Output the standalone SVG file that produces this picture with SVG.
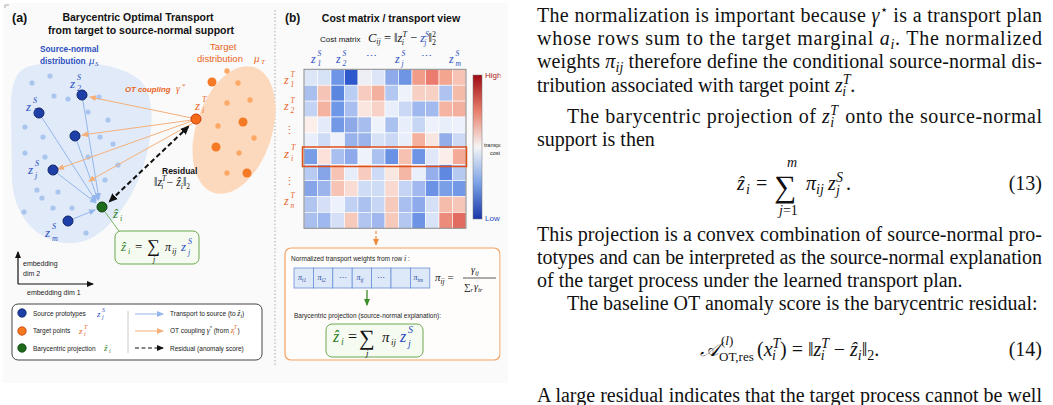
<svg xmlns="http://www.w3.org/2000/svg" width="1053" height="405" viewBox="0 0 1053 405">
<defs>
<style>
.s{font-family:"Liberation Sans",Arial,sans-serif}
.m{font-family:"Liberation Serif","Times New Roman","DejaVu Serif",serif;font-style:italic}
.r{font-family:"Liberation Serif","Times New Roman","DejaVu Serif",serif}
.bl{fill:#2a4fc0}.or{fill:#e8641c}.gr{fill:#2e7d1f}.bt{font-weight:bold}
.arb{stroke:#94b6ec;stroke-width:1;fill:none;marker-end:url(#mb)}
.aro{stroke:#f5b07a;stroke-width:1;fill:none;marker-end:url(#mo)}
.sd{fill:#aac5ee}.td{fill:#fca867}.tl{fill:#f47a25}
.p{fill:#1f3fa8;stroke:#0e2366;stroke-width:1}
.c rect{stroke:#fff;stroke-width:0.6}
.body{font-family:"Liberation Serif","Times New Roman",serif;font-size:20px;fill:#111}
.wc{fill:#dde8f9;stroke:#6b8fd8;stroke-width:0.8}
</style>
<marker id="mb" markerWidth="8" markerHeight="8" refX="6" refY="4" orient="auto" markerUnits="userSpaceOnUse"><path d="M0,1 L7,4 L0,7 Z" fill="#94b6ec"/></marker>
<marker id="mo" markerWidth="8" markerHeight="8" refX="6" refY="4" orient="auto" markerUnits="userSpaceOnUse"><path d="M0,1 L7,4 L0,7 Z" fill="#f5b07a"/></marker>
<marker id="mk" markerWidth="10" markerHeight="10" refX="7" refY="5" orient="auto-start-reverse" markerUnits="userSpaceOnUse"><path d="M0,1 L9,5 L0,9 Z" fill="#111"/></marker>
<marker id="mk2" markerWidth="8" markerHeight="8" refX="6" refY="4" orient="auto" markerUnits="userSpaceOnUse"><path d="M0,1 L7,4 L0,7 Z" fill="#111"/></marker>
<marker id="mg" markerWidth="8" markerHeight="8" refX="6" refY="4" orient="auto" markerUnits="userSpaceOnUse"><path d="M0,1 L7,4 L0,7 Z" fill="#3c8c2c"/></marker>
<marker id="mo2" markerWidth="8" markerHeight="8" refX="6" refY="4" orient="auto" markerUnits="userSpaceOnUse"><path d="M0,1 L7,4 L0,7 Z" fill="#f08a3c"/></marker>
<marker id="ma" markerWidth="8" markerHeight="8" refX="6" refY="4" orient="auto" markerUnits="userSpaceOnUse"><path d="M0,1 L7,4 L0,7 Z" fill="#111"/></marker>
<linearGradient id="cb" x1="0" y1="0" x2="0" y2="1">
<stop offset="0" stop-color="#9e0a14"/><stop offset="0.25" stop-color="#e7806b"/><stop offset="0.5" stop-color="#f5f5f5"/><stop offset="0.75" stop-color="#7ba3e6"/><stop offset="1" stop-color="#1a36a8"/>
</linearGradient>
<clipPath id="fc"><rect x="0" y="0" width="500.5" height="405"/></clipPath>
</defs>

<rect x="0" y="0" width="1053" height="405" fill="#fff"/>
<rect x="3" y="3" width="505" height="380" fill="#fafafa"/>
<path d="M5,8 L5,5 L9,5" stroke="#999" stroke-width="0.8" fill="none"/>
<line x1="275" y1="10" x2="275" y2="366" stroke="#aaa" stroke-width="1" stroke-dasharray="1.5,2"/>

<!-- Panel (a) -->
<g id="panel-a">
<text class="s bt" x="12" y="22" font-size="12.5" fill="#111">(a)</text>
<text class="s bt" x="138" y="21" font-size="10.5" text-anchor="middle" fill="#111">Barycentric Optimal Transport</text>
<text class="s bt" x="141" y="34" font-size="10.5" text-anchor="middle" fill="#111">from target to source-normal support</text>

<g id="source-dist">
<path d="M30,66 C70,58 132,62 146,88 C158,114 150,165 128,200 C110,228 90,246 65,243 C35,240 14,215 12,180 L11,110 C11,85 15,70 30,66 Z" fill="#e0eaf9"/>
<text class="s bl bt" x="40" y="52" font-size="8.3">Source-normal</text>
<text class="s bl bt" x="40" y="64" font-size="8.3">distribution</text>
<text class="m bl" x="89" y="64" font-size="11">μ</text><text class="m bl" x="95" y="66" font-size="7">S</text>
<circle class="sd" cx="32" cy="83" r="2.6"/><circle class="sd" cx="50" cy="76" r="2.6"/><circle class="sd" cx="54" cy="96" r="2.6"/>
<circle class="sd" cx="68" cy="99" r="2.6"/><circle class="sd" cx="99" cy="97" r="2.6"/><circle class="sd" cx="88" cy="112" r="2.6"/>
<circle class="sd" cx="108" cy="120" r="2.6"/><circle class="sd" cx="25" cy="127" r="2.6"/><circle class="sd" cx="43" cy="137" r="2.6"/>
<circle class="sd" cx="100" cy="137" r="2.6"/><circle class="sd" cx="113" cy="144" r="2.6"/><circle class="sd" cx="25" cy="153" r="2.6"/>
<circle class="sd" cx="45" cy="157" r="2.6"/><circle class="sd" cx="88" cy="157" r="2.6"/><circle class="sd" cx="118" cy="165" r="2.6"/>
<circle class="sd" cx="37" cy="190" r="2.6"/><circle class="sd" cx="58" cy="192" r="2.6"/><circle class="sd" cx="42" cy="198" r="2.6"/>
<circle class="sd" cx="53" cy="208" r="2.6"/><circle class="sd" cx="72" cy="208" r="2.6"/><circle class="sd" cx="86" cy="233" r="2.6"/>
<circle class="sd" cx="105" cy="180" r="2.6"/><circle class="sd" cx="24" cy="212" r="2.6"/>
</g>

<g id="target-dist">
<ellipse cx="234" cy="130" rx="38" ry="66" transform="rotate(18 234 130)" fill="#fcd9bd"/>
<text class="s or" x="210" y="50" font-size="9.5">Target</text>
<text class="s or" x="197" y="62" font-size="9.5">distribution</text>
<text class="m or" x="254" y="62" font-size="11">μ</text><text class="m or" x="261" y="64" font-size="7">T</text>
<circle class="td" cx="227" cy="71" r="2.7"/><circle class="td" cx="238" cy="83" r="2.7"/><circle class="td" cx="227" cy="103" r="2.7"/>
<circle class="td" cx="250" cy="100" r="2.7"/><circle class="td" cx="218" cy="126" r="2.7"/><circle class="td" cx="254" cy="138" r="2.7"/>
<circle class="td" cx="239" cy="153" r="2.7"/><circle class="td" cx="227" cy="173" r="2.7"/>
<circle class="tl" cx="212" cy="82" r="4.5"/><circle class="tl" cx="243" cy="122" r="4.5"/><circle class="tl" cx="216" cy="147" r="4.5"/><circle class="tl" cx="247" cy="173" r="4.5"/>
</g>

<g id="connectors-a">
<line class="arb" x1="39" y1="113" x2="96" y2="201"/>
<line class="arb" x1="82" y1="95" x2="99" y2="199"/>
<line class="arb" x1="75" y1="136" x2="98" y2="200"/>
<line class="arb" x1="53" y1="170" x2="96" y2="203"/>
<line class="arb" x1="68" y1="221" x2="95" y2="210"/>
<line class="aro" x1="192" y1="118" x2="90" y2="97"/>
<line class="aro" x1="192" y1="120" x2="82" y2="135"/>
<line class="aro" x1="192" y1="121" x2="58" y2="169"/>
<line class="aro" x1="193" y1="123" x2="89" y2="181"/>
<line x1="110" y1="201" x2="188" y2="127" stroke="#111" stroke-width="2" stroke-dasharray="5,3" marker-start="url(#mk)" marker-end="url(#mk)"/>
<line x1="105" y1="212" x2="119" y2="231" stroke="#6aa84f" stroke-width="0.9"/>
</g>

<g id="prototypes">
<circle class="p" cx="82" cy="95" r="5"/><circle class="p" cx="39" cy="113" r="5"/><circle class="p" cx="75" cy="136" r="5"/>
<circle class="p" cx="53" cy="170" r="5"/><circle class="p" cx="68" cy="221" r="5"/>
<text class="m bl" x="70" y="88" font-size="13">z</text><text class="m bl" x="77" y="80" font-size="8">S</text><text class="m bl" x="77" y="91" font-size="8">2</text>
<text class="m bl" x="26" y="111" font-size="13">z</text><text class="m bl" x="33" y="103" font-size="8">S</text><text class="m bl" x="33" y="114" font-size="8">1</text>
<text class="m bl" x="28" y="174" font-size="13">z</text><text class="m bl" x="35" y="166" font-size="8">S</text><text class="m bl" x="35" y="178" font-size="8">j</text>
<text class="m bl" x="45" y="237" font-size="13">z</text><text class="m bl" x="52" y="229" font-size="8">S</text><text class="m bl" x="52" y="241" font-size="8">m</text>
</g>

<g id="target-point">
<circle cx="196" cy="119" r="5" fill="#f56b1a" stroke="#c63b0a" stroke-width="1"/>
<text class="m or" x="195" y="110" font-size="13">z</text><text class="m or" x="202" y="102" font-size="8">T</text><text class="m or" x="202" y="113" font-size="8">i</text>
</g>

<g id="bary-point">
<circle cx="102" cy="207" r="5" fill="#1e6b1e" stroke="#0d3f0d" stroke-width="1"/>
<text class="m gr" x="113" y="218" font-size="13">ẑ</text><text class="m gr" x="120" y="221" font-size="8">i</text>
</g>

<text class="s or" x="125" y="92" font-size="7.8" font-style="italic" font-weight="bold">OT coupling</text>
<text class="m or" x="176" y="92" font-size="10">γ</text><text class="r or" x="182" y="88" font-size="7">*</text>

<g id="residual-label">
<text class="s bt" x="162" y="174" font-size="8.5" fill="#111">Residual</text>
<text class="r" x="154" y="186" font-size="12" fill="#111">‖<tspan font-style="italic">z</tspan><tspan font-style="italic" font-size="7.5" dy="-5">T</tspan><tspan font-style="italic" font-size="7.5" dx="-4.5" dy="8">i</tspan><tspan dy="-3" dx="3">−</tspan><tspan font-style="italic" dx="3">ẑ</tspan><tspan font-style="italic" font-size="7.5" dy="3">i</tspan><tspan dy="-3">‖</tspan><tspan font-size="7.5" dy="3">2</tspan></text>
</g>

<g id="formula-a">
<rect x="115" y="231" width="84" height="33" rx="6" fill="#f6fbf2" stroke="#6aa84f" stroke-width="1"/>
<text class="m gr" x="121" y="251" font-size="13">ẑ</text><text class="m gr" x="128" y="254" font-size="8">i</text>
<text class="r" x="135" y="251" font-size="13" fill="#111">=</text>
<text class="r" x="147" y="252" font-size="18" fill="#111">∑</text>
<text class="m" x="153" y="262" font-size="8" fill="#111">j</text>
<text class="m" x="165" y="251" font-size="12" fill="#111">π</text><text class="m" x="172" y="254" font-size="8" fill="#111">ij</text>
<text class="m bl" x="181" y="251" font-size="13">z</text><text class="m bl" x="188" y="244" font-size="8">S</text><text class="m bl" x="188" y="255" font-size="8">j</text>
</g>

<g id="axes">
<line x1="18" y1="284" x2="18" y2="252" stroke="#111" stroke-width="1.2" marker-end="url(#ma)"/>
<line x1="18" y1="284" x2="93" y2="284" stroke="#111" stroke-width="1.2" marker-end="url(#ma)"/>
<text class="s" x="23" y="266" font-size="7" fill="#222">embedding</text>
<text class="s" x="23" y="276" font-size="7" fill="#222">dim 2</text>
<text class="s" x="27" y="295" font-size="7" fill="#222">embedding dim 1</text>
</g>

<g id="legend">
<rect x="12" y="304" width="250" height="56" rx="6" fill="#fff" stroke="#444" stroke-width="1"/>
<circle cx="22" cy="313" r="4.2" fill="#1f3fa8" stroke="#0e2366" stroke-width="0.8"/>
<circle cx="22" cy="331" r="4.2" fill="#f5791f" stroke="#c63b0a" stroke-width="0.8"/>
<circle cx="22" cy="348" r="4.2" fill="#1e6b1e" stroke="#0d3f0d" stroke-width="0.8"/>
<text class="s" x="33" y="316" font-size="6.5" fill="#222">Source prototypes</text>
<text class="m bl" x="97" y="317" font-size="9">z</text><text class="m bl" x="102" y="312" font-size="6">S</text><text class="m bl" x="102" y="319" font-size="6">j</text>
<text class="s" x="33" y="333" font-size="6.5" fill="#222">Target points</text>
<text class="m or" x="79" y="334" font-size="9">z</text><text class="m or" x="84" y="329" font-size="6">T</text><text class="m or" x="84" y="336" font-size="6">i</text>
<text class="s" x="33" y="351" font-size="6.5" fill="#222">Barycentric projection</text>
<text class="m gr" x="104" y="351" font-size="9">ẑ</text><text class="m gr" x="109" y="353" font-size="6">i</text>
<line x1="128" y1="311" x2="128" y2="353" stroke="#bbb" stroke-width="0.8"/>
<line x1="135" y1="314" x2="163" y2="314" class="arb"/>
<line x1="135" y1="331" x2="163" y2="331" class="aro"/>
<line x1="135" y1="348" x2="163" y2="348" stroke="#111" stroke-width="1.2" stroke-dasharray="4,2.5" marker-end="url(#mk2)"/>
<text class="s" x="170" y="316" font-size="6.5" fill="#222">Transport to source  (to <tspan class="m" font-size="8">ẑ</tspan><tspan class="m" font-size="5.5" dy="2">i</tspan><tspan dy="-2">)</tspan></text>
<text class="s" x="170" y="333" font-size="6.5" fill="#222">OT coupling  <tspan class="m" font-size="8">γ</tspan><tspan font-size="5" dy="-3">*</tspan><tspan dy="3"> (from </tspan><tspan class="m or" font-size="8">z</tspan><tspan class="m or" font-size="5.5" dy="-4">T</tspan><tspan class="m or" font-size="5.5" dx="-3.5" dy="6">i</tspan><tspan dy="-2" dx="3">)</tspan></text>
<text class="s" x="170" y="351" font-size="6.5" fill="#222">Residual (anomaly score)</text>
</g>
</g>

<!-- Panel (b) -->
<g id="panel-b" clip-path="url(#fc)">
<text class="s bt" x="285" y="22" font-size="12" fill="#111">(b)</text>
<text class="s bt" x="391" y="22" font-size="10.5" text-anchor="middle" fill="#111">Cost matrix / transport view</text>
<text class="s" x="320" y="42" font-size="8" fill="#111">Cost matrix</text>
<text class="r" x="368" y="42" font-size="12.5" fill="#111"><tspan font-style="italic">C</tspan><tspan font-style="italic" font-size="8" dy="2">ij</tspan><tspan dy="-2"> = ‖</tspan><tspan font-style="italic">z</tspan><tspan font-style="italic" font-size="8" dy="-5">T</tspan><tspan font-style="italic" font-size="8" dx="-4.8" dy="8">i</tspan><tspan dy="-3" dx="3"> − </tspan><tspan font-style="italic" fill="#2a4fc0">z</tspan><tspan font-style="italic" font-size="8" dy="-5" fill="#2a4fc0">S</tspan><tspan font-style="italic" font-size="8" dx="-4.8" dy="8" fill="#2a4fc0">j</tspan><tspan dy="-3" dx="2">‖</tspan><tspan font-size="8" dy="-5">2</tspan><tspan font-size="8" dx="-4" dy="8">2</tspan></text>

<g id="col-labels" class="bl">
<text class="m" x="311" y="63" font-size="12">z</text><text class="m" x="317.5" y="56" font-size="7.5">S</text><text class="m" x="317.5" y="66" font-size="7.5">1</text>
<text class="m" x="336" y="63" font-size="12">z</text><text class="m" x="342.5" y="56" font-size="7.5">S</text><text class="m" x="342.5" y="66" font-size="7.5">2</text>
<text class="r" x="371" y="60" font-size="11" text-anchor="middle">⋯</text>
<text class="m" x="395" y="63" font-size="12">z</text><text class="m" x="401.5" y="56" font-size="7.5">S</text><text class="m" x="401.5" y="66" font-size="7.5">j</text>
<text class="r" x="426" y="60" font-size="11" text-anchor="middle">⋯</text>
<text class="m" x="449" y="63" font-size="12">z</text><text class="m" x="455.5" y="56" font-size="7.5">S</text><text class="m" x="455.5" y="66" font-size="7.5">m</text>
</g>
<g id="row-labels" class="or">
<text class="m" x="284" y="84" font-size="12">z</text><text class="m" x="290.5" y="77" font-size="7.5">T</text><text class="m" x="290.5" y="87" font-size="7.5">1</text>
<text class="m" x="284" y="110" font-size="12">z</text><text class="m" x="290.5" y="103" font-size="7.5">T</text><text class="m" x="290.5" y="113" font-size="7.5">2</text>
<text class="r" x="289" y="134" font-size="11" text-anchor="middle">⋮</text>
<text class="m" x="284" y="158" font-size="13">z</text><text class="m" x="291" y="150" font-size="8">T</text><text class="m" x="291" y="161" font-size="8">i</text>
<text class="r" x="289" y="185" font-size="11" text-anchor="middle">⋮</text>
<text class="m" x="284" y="205" font-size="12">z</text><text class="m" x="290.5" y="198" font-size="7.5">T</text><text class="m" x="290.5" y="208" font-size="7.5">n</text>
</g>

<g id="cost-matrix" class="c">
<g transform="translate(0,69.3)"><rect x="304" width="13.5" height="15.9" fill="#dde6f7"/><rect x="317.5" width="13.5" height="15.9" fill="#d6e2f5"/><rect x="331" width="13.5" height="15.9" fill="#6f96e6"/><rect x="344.5" width="13.5" height="15.9" fill="#2f58cc"/><rect x="358" width="13.5" height="15.9" fill="#eeeff4"/><rect x="371.5" width="13.5" height="15.9" fill="#dde6f8"/><rect x="385" width="13.5" height="15.9" fill="#8eaaea"/><rect x="398.5" width="13.5" height="15.9" fill="#6e95e4"/><rect x="412" width="13.5" height="15.9" fill="#f09c88"/><rect x="425.5" width="13.5" height="15.9" fill="#ea7b6e"/><rect x="439" width="13.5" height="15.9" fill="#f2a690"/><rect x="452.5" width="13.5" height="15.9" fill="#f6c3b4"/></g>
<g transform="translate(0,85.2)"><rect x="304" width="13.5" height="15.9" fill="#a9c0ef"/><rect x="317.5" width="13.5" height="15.9" fill="#f5c4b6"/><rect x="331" width="13.5" height="15.9" fill="#5a86e0"/><rect x="344.5" width="13.5" height="15.9" fill="#bacdf2"/><rect x="358" width="13.5" height="15.9" fill="#f7cbbd"/><rect x="371.5" width="13.5" height="15.9" fill="#f3b09e"/><rect x="385" width="13.5" height="15.9" fill="#b2c7f1"/><rect x="398.5" width="13.5" height="15.9" fill="#eef2fb"/><rect x="412" width="13.5" height="15.9" fill="#f7cfc3"/><rect x="425.5" width="13.5" height="15.9" fill="#f7d0c4"/><rect x="439" width="13.5" height="15.9" fill="#aec3ef"/><rect x="452.5" width="13.5" height="15.9" fill="#f5bba9"/></g>
<g transform="translate(0,101.1)"><rect x="304" width="13.5" height="15.9" fill="#c3d3f4"/><rect x="317.5" width="13.5" height="15.9" fill="#f4b2a0"/><rect x="331" width="13.5" height="15.9" fill="#6f97e8"/><rect x="344.5" width="13.5" height="15.9" fill="#a8bfef"/><rect x="358" width="13.5" height="15.9" fill="#fbe6df"/><rect x="371.5" width="13.5" height="15.9" fill="#f8d2c6"/><rect x="385" width="13.5" height="15.9" fill="#e9eefb"/><rect x="398.5" width="13.5" height="15.9" fill="#cad8f5"/><rect x="412" width="13.5" height="15.9" fill="#9fb8ee"/><rect x="425.5" width="13.5" height="15.9" fill="#a2baee"/><rect x="439" width="13.5" height="15.9" fill="#f4b4a1"/><rect x="452.5" width="13.5" height="15.9" fill="#f3b09f"/></g>
<g transform="translate(0,117)"><rect x="304" width="13.5" height="15.9" fill="#fcefe9"/><rect x="317.5" width="13.5" height="15.9" fill="#e3eafa"/><rect x="331" width="13.5" height="15.9" fill="#7399e6"/><rect x="344.5" width="13.5" height="15.9" fill="#8ea9e8"/><rect x="358" width="13.5" height="15.9" fill="#a7bdee"/><rect x="371.5" width="13.5" height="15.9" fill="#eef2fb"/><rect x="385" width="13.5" height="15.9" fill="#abc1f0"/><rect x="398.5" width="13.5" height="15.9" fill="#e9eefb"/><rect x="412" width="13.5" height="15.9" fill="#c8d6f5"/><rect x="425.5" width="13.5" height="15.9" fill="#edf1fb"/><rect x="439" width="13.5" height="15.9" fill="#e9eefb"/><rect x="452.5" width="13.5" height="15.9" fill="#edf1fb"/></g>
<g transform="translate(0,132.9)"><rect x="304" width="13.5" height="15.9" fill="#e9eefb"/><rect x="317.5" width="13.5" height="15.9" fill="#cfdcf6"/><rect x="331" width="13.5" height="15.9" fill="#eef1fa"/><rect x="344.5" width="13.5" height="15.9" fill="#98b2ec"/><rect x="358" width="13.5" height="15.9" fill="#9cb4ec"/><rect x="371.5" width="13.5" height="15.9" fill="#d8e2f7"/><rect x="385" width="13.5" height="15.9" fill="#cbd8f5"/><rect x="398.5" width="13.5" height="15.9" fill="#e9eefb"/><rect x="412" width="13.5" height="15.9" fill="#f5b19f"/><rect x="425.5" width="13.5" height="15.9" fill="#f7e5e1"/><rect x="439" width="13.5" height="15.9" fill="#92ade9"/><rect x="452.5" width="13.5" height="15.9" fill="#cdd9f5"/></g>
<g transform="translate(0,148.8)"><rect x="304" width="13.5" height="15.9" fill="#779de7"/><rect x="317.5" width="13.5" height="15.9" fill="#fbe1d9"/><rect x="331" width="13.5" height="15.9" fill="#a9bff0"/><rect x="344.5" width="13.5" height="15.9" fill="#8eaaea"/><rect x="358" width="13.5" height="15.9" fill="#eef2fb"/><rect x="371.5" width="13.5" height="15.9" fill="#abc1f0"/><rect x="385" width="13.5" height="15.9" fill="#6a92e4"/><rect x="398.5" width="13.5" height="15.9" fill="#f6c1b1"/><rect x="412" width="13.5" height="15.9" fill="#6d94e5"/><rect x="425.5" width="13.5" height="15.9" fill="#dfe7f9"/><rect x="439" width="13.5" height="15.9" fill="#fbeee8"/><rect x="452.5" width="13.5" height="15.9" fill="#f3ab97"/></g>
<g transform="translate(0,164.7)"><rect x="304" width="13.5" height="15.9" fill="#b8cbf2"/><rect x="317.5" width="13.5" height="15.9" fill="#86a5e9"/><rect x="331" width="13.5" height="15.9" fill="#f6c3b4"/><rect x="344.5" width="13.5" height="15.9" fill="#e6ecfa"/><rect x="358" width="13.5" height="15.9" fill="#f7cbbd"/><rect x="371.5" width="13.5" height="15.9" fill="#cedbf6"/><rect x="385" width="13.5" height="15.9" fill="#f8e6e1"/><rect x="398.5" width="13.5" height="15.9" fill="#f4b7a6"/><rect x="412" width="13.5" height="15.9" fill="#eaf0fb"/><rect x="425.5" width="13.5" height="15.9" fill="#94afeb"/><rect x="439" width="13.5" height="15.9" fill="#5f89e0"/><rect x="452.5" width="13.5" height="15.9" fill="#b6c9f1"/></g>
<g transform="translate(0,180.6)"><rect x="304" width="13.5" height="15.9" fill="#86a5e9"/><rect x="317.5" width="13.5" height="15.9" fill="#9cb4ec"/><rect x="331" width="13.5" height="15.9" fill="#f6c3b4"/><rect x="344.5" width="13.5" height="15.9" fill="#f9dcd3"/><rect x="358" width="13.5" height="15.9" fill="#cfdcf6"/><rect x="371.5" width="13.5" height="15.9" fill="#cfdcf6"/><rect x="385" width="13.5" height="15.9" fill="#f8d8cf"/><rect x="398.5" width="13.5" height="15.9" fill="#c5d4f4"/><rect x="412" width="13.5" height="15.9" fill="#a1b9ee"/><rect x="425.5" width="13.5" height="15.9" fill="#6b92e4"/><rect x="439" width="13.5" height="15.9" fill="#7b9fe7"/><rect x="452.5" width="13.5" height="15.9" fill="#7399e6"/></g>
<g transform="translate(0,196.5)"><rect x="304" width="13.5" height="15.9" fill="#b1c5f0"/><rect x="317.5" width="13.5" height="15.9" fill="#d5e0f7"/><rect x="331" width="13.5" height="15.9" fill="#edf1fb"/><rect x="344.5" width="13.5" height="15.9" fill="#c1d1f4"/><rect x="358" width="13.5" height="15.9" fill="#abc1f0"/><rect x="371.5" width="13.5" height="15.9" fill="#c7d6f5"/><rect x="385" width="13.5" height="15.9" fill="#f7c9bb"/><rect x="398.5" width="13.5" height="15.9" fill="#a8bfef"/><rect x="412" width="13.5" height="15.9" fill="#8eaaea"/><rect x="425.5" width="13.5" height="15.9" fill="#d5e0f7"/><rect x="439" width="13.5" height="15.9" fill="#f5bcab"/><rect x="452.5" width="13.5" height="15.9" fill="#f6c7b8"/></g>
<g transform="translate(0,212.4)"><rect x="304" width="13.5" height="15.9" fill="#a9c0ef"/><rect x="317.5" width="13.5" height="15.9" fill="#9fb8ee"/><rect x="331" width="13.5" height="15.9" fill="#d5e0f7"/><rect x="344.5" width="13.5" height="15.9" fill="#f7c9bb"/><rect x="358" width="13.5" height="15.9" fill="#b1c5f0"/><rect x="371.5" width="13.5" height="15.9" fill="#a0b8ee"/><rect x="385" width="13.5" height="15.9" fill="#f7c9bb"/><rect x="398.5" width="13.5" height="15.9" fill="#b3c7f1"/><rect x="412" width="13.5" height="15.9" fill="#6c93e4"/><rect x="425.5" width="13.5" height="15.9" fill="#d9e3f8"/><rect x="439" width="13.5" height="15.9" fill="#ea8b7c"/><rect x="452.5" width="13.5" height="15.9" fill="#e26b62"/></g>
</g>
<rect x="304" y="69.3" width="162" height="159" fill="none" stroke="#8a8a8a" stroke-width="1"/>
<rect x="302.5" y="147" width="164" height="19.5" fill="none" stroke="#e0501a" stroke-width="1.5"/>

<g id="colorbar">
<rect x="473" y="75" width="9" height="144" fill="url(#cb)" stroke="#777" stroke-width="0.5"/>
<text class="s" x="485" y="78" font-size="8" fill="#b01c1c">High</text>
<text class="s" x="484" y="147" font-size="5.5" fill="#222">transport</text>
<text class="s" x="490" y="155" font-size="5.5" fill="#222">cost</text>
<text class="s" x="485" y="221" font-size="8" fill="#2a4fc0">Low</text>
</g>

<line x1="376" y1="231" x2="376" y2="245" stroke="#f08a3c" stroke-width="1.2" stroke-dasharray="3,2" marker-end="url(#mo2)"/>

<g id="weights-box">
<rect x="285" y="248" width="215" height="112" rx="6" fill="#fffdfb" stroke="#f4a261" stroke-width="1.2"/>
<text class="s" x="291" y="261" font-size="6.5" fill="#222">Normalized transport weights from row  <tspan class="m" font-size="8">i</tspan> :</text>
<rect class="wc" x="294" y="268" width="19.4" height="20"/>
<rect class="wc" x="313.4" y="268" width="19.4" height="20"/>
<rect class="wc" x="332.8" y="268" width="19.4" height="20"/>
<rect class="wc" x="352.2" y="268" width="19.4" height="20" fill="#bcd0f3"/>
<rect class="wc" x="371.6" y="268" width="19.4" height="20"/>
<rect class="wc" x="391" y="268" width="19.4" height="20"/>
<rect class="wc" x="410.4" y="268" width="19.4" height="20"/>
<g class="m" font-size="8" fill="#2b4a9b">
<text x="298" y="280">π<tspan font-size="5.5" dy="1.5">i1</tspan></text>
<text x="317.5" y="280">π<tspan font-size="5.5" dy="1.5">i2</tspan></text>
<text x="342.5" y="280" text-anchor="middle" font-style="normal">⋯</text>
<text x="356.5" y="280">π<tspan font-size="5.5" dy="1.5">ij</tspan></text>
<text x="381.3" y="280" text-anchor="middle" font-style="normal">⋯</text>
<text x="413.5" y="280">π<tspan font-size="5.5" dy="1.5">im</tspan></text>
</g>
<text class="m" x="435" y="281" font-size="11" fill="#111">π<tspan font-size="7.5" dy="2.5">ij</tspan><tspan font-style="normal" dy="-2.5"> =</tspan></text>
<text class="m" x="471" y="273" font-size="10" fill="#111">γ<tspan font-size="7" dy="2">ij</tspan></text>
<line x1="463" y1="278" x2="496" y2="278" stroke="#111" stroke-width="0.7"/>
<text class="m" x="464" y="290" font-size="10" fill="#111"><tspan font-style="normal" font-size="9">∑</tspan><tspan font-size="6.5" dy="2">r</tspan><tspan dy="-2" dx="1">γ</tspan><tspan font-size="7" dy="2">ir</tspan></text>
<line x1="367" y1="290" x2="367" y2="305" stroke="#3c8c2c" stroke-width="1.3" marker-end="url(#mg)"/>
<text class="s" x="294" y="318" font-size="6.5" fill="#222">Barycentric projection (source-normal explanation):</text>
<rect x="326" y="324" width="97" height="33" rx="6" fill="#f6fbf2" stroke="#6aa84f" stroke-width="1"/>
<text class="m gr" x="333" y="342" font-size="16">ẑ</text><text class="m gr" x="341" y="345" font-size="10">i</text>
<text class="r" x="348" y="342" font-size="16" fill="#111">=</text>
<text class="r" x="359" y="345" font-size="22" fill="#111">∑</text>
<text class="m" x="366" y="356" font-size="9" fill="#111">j</text>
<text class="m" x="382" y="342" font-size="15" fill="#111">π</text><text class="m" x="391" y="345" font-size="9" fill="#111">ij</text>
<text class="m bl" x="400" y="342" font-size="16">z</text><text class="m bl" x="408" y="333" font-size="10">S</text><text class="m bl" x="408" y="347" font-size="10">j</text>
</g>
</g>

<!-- Body text -->
<g id="body-text" class="body">
<text x="537" y="22" textLength="505" lengthAdjust="spacing">The normalization is important because <tspan font-style="italic">γ</tspan><tspan font-size="13" dy="-8">⋆</tspan><tspan dy="8"> is a transport plan</tspan></text>
<text x="537" y="45" textLength="505" lengthAdjust="spacing">whose rows sum to the target marginal <tspan font-style="italic">a</tspan><tspan font-style="italic" font-size="14" dy="4">i</tspan><tspan dy="-4">.  The normalized</tspan></text>
<text x="537" y="68" textLength="505" lengthAdjust="spacing">weights <tspan font-style="italic">π</tspan><tspan font-style="italic" font-size="14" dy="4">ij</tspan><tspan dy="-4"> therefore define the conditional source-normal dis-</tspan></text>
<text x="537" y="92">tribution associated with target point <tspan font-style="italic">z</tspan><tspan font-style="italic" font-size="14" dy="-8">T</tspan><tspan font-style="italic" font-size="14" dx="-7.5" dy="12">i</tspan><tspan dy="-4" dx="4">.</tspan></text>
<text x="567" y="123" textLength="475" lengthAdjust="spacing">The barycentric projection of <tspan font-style="italic">z</tspan><tspan font-style="italic" font-size="14" dy="-8">T</tspan><tspan font-style="italic" font-size="14" dx="-7.5" dy="12">i</tspan><tspan dy="-4" dx="5"> onto the source-normal</tspan></text>
<text x="537" y="146">support is then</text>
<g id="eq13">
<text x="737" y="190" font-style="italic">ẑ</text><text x="746" y="194" font-size="14" font-style="italic">i</text>
<text x="756" y="190">=</text>
<text x="774" y="197" font-size="31">∑</text>
<text x="787" y="167" font-size="14" font-style="italic">m</text>
<text x="779" y="215" font-size="14"><tspan font-style="italic">j</tspan>=1</text>
<text x="806" y="190" font-style="italic">π</text><text x="816" y="194" font-size="14" font-style="italic">ij</text>
<text x="828" y="190" font-style="italic">z</text><text x="836" y="182" font-size="14" font-style="italic">S</text><text x="836" y="195" font-size="14" font-style="italic">j</text>
<text x="846" y="190">.</text>
<text x="1042" y="190" text-anchor="end">(13)</text>
</g>
<text x="537" y="241" textLength="505" lengthAdjust="spacing">This projection is a convex combination of source-normal pro-</text>
<text x="537" y="264" textLength="505" lengthAdjust="spacing">totypes and can be interpreted as the source-normal explanation</text>
<text x="537" y="287">of the target process under the learned transport plan.</text>
<text x="567" y="310">The baseline OT anomaly score is the barycentric residual:</text>
<g id="eq14">
<text x="700" y="356" font-style="italic">𝒜</text>
<text x="721" y="345" font-size="13"><tspan>(</tspan><tspan font-style="italic">l</tspan><tspan>)</tspan></text>
<text x="719" y="361" font-size="13">OT,res</text>
<text x="757" y="356">(<tspan font-style="italic">x</tspan><tspan font-style="italic" font-size="14" dy="-8">T</tspan><tspan font-style="italic" font-size="14" dx="-7.5" dy="12">i</tspan><tspan dy="-4" dx="4">) = ‖</tspan><tspan font-style="italic">z</tspan><tspan font-style="italic" font-size="14" dy="-8">T</tspan><tspan font-style="italic" font-size="14" dx="-7.5" dy="12">i</tspan><tspan dy="-4" dx="4"> − </tspan><tspan font-style="italic">ẑ</tspan><tspan font-style="italic" font-size="14" dy="4">i</tspan><tspan dy="-4">‖</tspan><tspan font-size="14" dy="4">2</tspan><tspan dy="-4">.</tspan></text>
<text x="1042" y="356" text-anchor="end">(14)</text>
</g>
<text x="537" y="402" textLength="505" lengthAdjust="spacing">A large residual indicates that the target process cannot be well</text>
</g>
</svg>
